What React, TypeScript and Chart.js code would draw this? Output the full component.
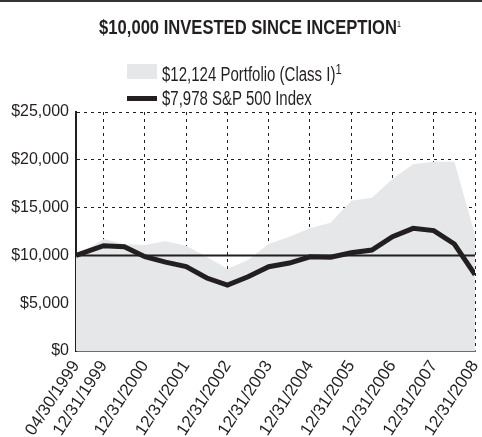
import React, { useEffect, useRef } from "react";
import { Chart, registerables } from "chart.js";

Chart.register(...registerables);

// x positions in fractional years (date of each observation)
const dates: number[] = [
  1999.33, 2000.0, 2000.5, 2001.0, 2001.5, 2002.0, 2002.5, 2003.0, 2003.5, 2004.0,
  2004.5, 2005.0, 2005.5, 2006.0, 2006.5, 2007.0, 2007.5, 2008.0, 2008.5, 2009.0,
];
const portfolio: number[] = [
  10000, 11720, 11190, 11090, 11470, 11010, 9860, 8580, 9520, 11190,
  11960, 12830, 13420, 15720, 16040, 17990, 19530, 19800, 19800, 12124,
];
const sp500: number[] = [
  10000, 11010, 10900, 9860, 9300, 8820, 7630, 6900, 7770, 8820,
  9200, 9860, 9800, 10280, 10560, 11960, 12830, 12590, 11190, 7978,
];
const tickPositions: number[] = [
  1999.33, 2000, 2001, 2002, 2003, 2004, 2005, 2006, 2007, 2008, 2009,
];
const tickLabels: string[] = [
  "04/30/1999", "12/31/1999", "12/31/2000", "12/31/2001", "12/31/2002", "12/31/2003",
  "12/31/2004", "12/31/2005", "12/31/2006", "12/31/2007", "12/31/2008",
];
const baseline: number = 10000;
const titleText = "$10,000 INVESTED SINCE INCEPTION";
const legendPortfolio = "$12,124 Portfolio (Class I)";
const legendSP = "$7,978 S&P 500 Index";

const FONT = "'Liberation Sans', Arial, sans-serif";

export default function App() {
  const ref = useRef<HTMLCanvasElement | null>(null);

  useEffect(() => {
    if (!ref.current) return;
    const chart = new Chart(ref.current, {
      type: "line",
      data: {
        datasets: [
          {
            label: legendSP,
            data: dates.map((d, i) => ({ x: d, y: sp500[i] })),
            borderColor: "#231f20",
            borderWidth: 5,
            pointRadius: 0,
            fill: false,
            tension: 0,
            order: 0,
          },
          {
            label: "baseline",
            data: [
              { x: dates[0], y: baseline },
              { x: dates[dates.length - 1], y: baseline },
            ],
            borderColor: "#231f20",
            borderWidth: 2,
            pointRadius: 0,
            fill: false,
            order: 1,
          },
          {
            label: legendPortfolio,
            data: dates.map((d, i) => ({ x: d, y: portfolio[i] })),
            borderColor: "rgba(0,0,0,0)",
            borderWidth: 0,
            backgroundColor: "#e6e7e8",
            pointRadius: 0,
            fill: "origin",
            tension: 0,
            order: 2,
          },
        ],
      },
      options: {
        animation: false,
        responsive: false,
        maintainAspectRatio: false,
        layout: { padding: { top: 112, right: 7, left: 0, bottom: 0 } },
        plugins: {
          legend: { display: false },
          title: { display: false },
          tooltip: { enabled: false },
        },
        scales: {
          x: {
            type: "linear",
            min: dates[0],
            max: dates[dates.length - 1],
            z: 1,
            afterBuildTicks: (scale: any) => {
              scale.ticks = tickPositions.map((v) => ({ value: v }));
            },
            afterFit: (scale: any) => {
              scale.height = 86;
              scale.paddingLeft = 0;
              scale.paddingRight = 0;
            },
            ticks: {
              autoSkip: false,
              minRotation: 57,
              maxRotation: 57,
              padding: 6,
              color: "#231f20",
              font: { family: FONT, size: 17 },
              callback: (_v: any, i: number) => tickLabels[i],
            },
            grid: {
              drawTicks: false,
              color: "#231f20",
              lineWidth: 1,
            },
            border: { display: true, color: "#6d6e71", width: 2, dash: [3, 4] },
          },
          y: {
            min: 0,
            max: 25000,
            z: 1,
            afterFit: (scale: any) => {
              scale.width = 76;
            },
            ticks: {
              stepSize: 5000,
              padding: 7,
              color: "#231f20",
              font: { family: FONT, size: 16 },
              callback: (v: any) => "$" + Number(v).toLocaleString("en-US"),
            },
            grid: {
              drawTicks: false,
              color: "#231f20",
              lineWidth: 1,
            },
            border: { display: true, color: "#231f20", width: 2, dash: [3, 4] },
          },
        },
      } as any,
    });
    return () => chart.destroy();
  }, []);

  return (
    <div
      style={{
        position: "fixed",
        left: 0,
        top: 0,
        width: 482,
        height: 437,
        background: "#fff",
        overflow: "hidden",
        fontFamily: FONT,
        color: "#231f20",
      }}
    >
      <div style={{ position: "absolute", left: 0, top: 0, width: 482, height: 2, background: "#333" }} />
      <canvas ref={ref} width={482} height={437} style={{ position: "absolute", left: 0, top: 0 }} />
      <div
        style={{
          position: "absolute",
          left: 0,
          top: 12,
          width: 500,
          textAlign: "center",
          fontWeight: 700,
          fontSize: 21,
          lineHeight: "24px",
          whiteSpace: "nowrap",
          transform: "scaleX(0.79)",
          transformOrigin: "250px 0",
        }}
      >
        {titleText}
        <sup style={{ fontSize: 9, verticalAlign: "7px", fontWeight: 400 }}>1</sup>
      </div>
      <div style={{ position: "absolute", left: 127, top: 57, fontSize: 20, lineHeight: "24px", whiteSpace: "nowrap" }}>
        <div style={{ display: "flex", alignItems: "center" }}>
          <span style={{ display: "inline-block", width: 30, height: 15, background: "#e6e7e8", marginRight: 5 }} />
          <span style={{ display: "inline-block", transform: "scaleX(0.75)", transformOrigin: "0 0" }}>
            {legendPortfolio}
            <sup style={{ fontSize: 15, verticalAlign: "7px" }}>1</sup>
          </span>
        </div>
        <div style={{ display: "flex", alignItems: "center", marginTop: 0 }}>
          <span style={{ display: "inline-block", width: 30, height: 5, background: "#231f20", marginRight: 5 }} />
          <span style={{ display: "inline-block", transform: "scaleX(0.75)", transformOrigin: "0 0" }}>{legendSP}</span>
        </div>
      </div>
    </div>
  );
}
